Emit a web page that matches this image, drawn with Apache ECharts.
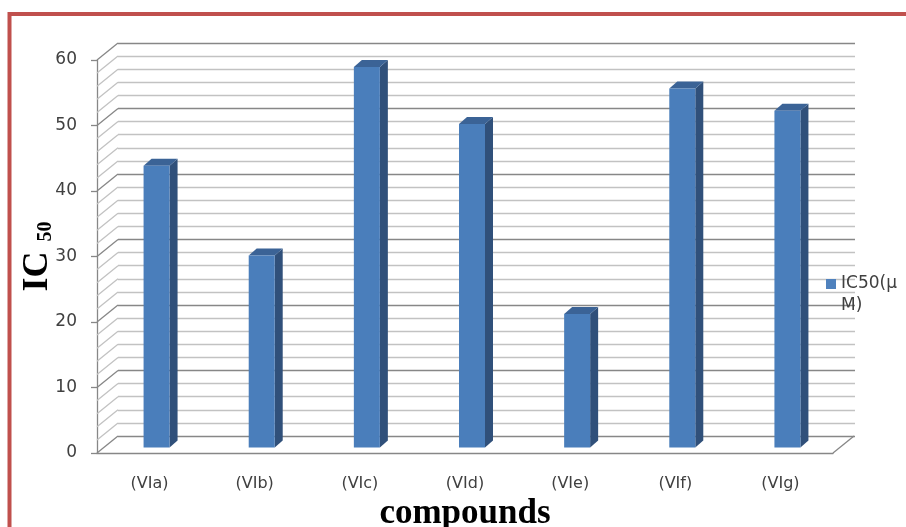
<!DOCTYPE html>
<html>
<head>
<meta charset="utf-8">
<script src="https://cdn.jsdelivr.net/npm/echarts@6/dist/echarts.min.js"></script>
<style>
  html, body { margin: 0; padding: 0; background: #fff; }
  #chart { width: 906px; height: 527px; }
</style>
</head>
<body>
<div id="chart"></div>
<script>
// IC50 values per compound
const categories = ['(VIa)', '(VIb)', '(VIc)', '(VId)', '(VIe)', '(VIf)', '(VIg)'];
const ic50 = [43, 29.3, 58.1, 49.4, 20.4, 54.8, 51.4];
const seriesName = 'IC50(μM)';
// value levels of the side-wall grid (every 2 units)
const wallLevels = [0, 2, 4, 6, 8, 10, 12, 14, 16, 18, 20, 22, 24, 26, 28, 30,
                    32, 34, 36, 38, 40, 42, 44, 46, 48, 50, 52, 54, 56, 58, 60];

const textColor = '#404040';
const labelFont = 'DejaVu Sans';
const gridMajor = '#878787';
const gridMinor = '#c2c2c2';
const depthX = 21, depthY = -17;   // perspective offset front -> back wall

const chart = echarts.init(document.getElementById('chart'));

chart.setOption({
  animation: false,
  backgroundColor: '#ffffff',
  graphic: [{
    type: 'rect',
    shape: { x: 9.5, y: 14, width: 1000, height: 1000 },
    style: { fill: 'none', stroke: '#c0504d', lineWidth: 4 },
    silent: true
  }],
  legend: {
    left: 826, top: 251, padding: 0,
    orient: 'vertical',
    itemWidth: 10, itemHeight: 10, itemGap: 5,
    data: [{ name: seriesName, icon: 'rect' }],
    // blank first line keeps the icon level with "IC50(μ"
    formatter: () => ' \nIC50(μ\nM)',
    textStyle: {
      color: textColor, fontFamily: labelFont, fontSize: 17, lineHeight: 22
    }
  },
  grid: [
    // front plane: axes and floor edge
    { left: 97, right: 73, top: 60, bottom: 74, outerBoundsMode: 'none', containLabel: false },
    // back wall: gridlines
    { left: 118, right: 51, top: 43, bottom: 91, outerBoundsMode: 'none', containLabel: false },
    // bar plane
    { left: 104, right: 66, top: 54.5, bottom: 79.5, outerBoundsMode: 'none', containLabel: false }
  ],
  xAxis: [
    {
      gridIndex: 0, type: 'category', data: categories,
      axisLine: { lineStyle: { color: gridMajor, width: 1.3 } },
      axisTick: { show: false },
      axisLabel: { color: textColor, fontFamily: labelFont, fontSize: 16, margin: 23 },
      name: 'compounds', nameLocation: 'middle', nameGap: 42,
      nameTextStyle: { fontFamily: 'Liberation Serif', fontWeight: 'bold', fontSize: 35, color: '#000' }
    },
    { gridIndex: 1, type: 'category', data: categories, show: false },
    { gridIndex: 2, type: 'category', data: categories, show: false }
  ],
  yAxis: [
    {
      gridIndex: 0, type: 'value', min: 0, max: 60, interval: 10,
      axisLine: { show: true, lineStyle: { color: gridMajor, width: 1.3 } },
      axisTick: { show: true, length: 6, lineStyle: { color: gridMajor, width: 1.3 } },
      axisLabel: { color: textColor, fontFamily: labelFont, fontSize: 17, margin: 20 },
      splitLine: { show: false },
      name: '{a|IC}{b|  50}', nameLocation: 'middle', nameRotate: 90, nameGap: 41,
      nameMoveOverlap: false,
      nameTextStyle: {
        rich: {
          a: { fontFamily: 'Liberation Serif', fontWeight: 'bold', fontSize: 36, color: '#000', verticalAlign: 'bottom' },
          b: { fontFamily: 'Liberation Serif', fontWeight: 'bold', fontSize: 20, color: '#000', verticalAlign: 'bottom' }
        }
      }
    },
    {
      gridIndex: 1, type: 'value', min: 0, max: 60, interval: 10,
      axisLine: { show: false }, axisTick: { show: false }, axisLabel: { show: false },
      splitLine: { show: true, lineStyle: { color: gridMajor, width: 1.3 } },
      minorTick: { show: false, splitNumber: 5 },
      minorSplitLine: { show: true, lineStyle: { color: gridMinor, width: 1.3 } }
    },
    {
      gridIndex: 2, type: 'value', min: 0, max: 60, show: false,
      splitLine: { show: false }
    }
  ],
  series: [
    {
      // side wall: slanted lines from the front axis to the back wall, plus floor right edge
      type: 'custom', xAxisIndex: 0, yAxisIndex: 0, silent: true,
      data: wallLevels.map(v => [0, v]),
      encode: { x: 0, y: 1 },
      z: 1,
      renderItem: function (params, api) {
        const cs = params.coordSys;
        const v = api.value(1);
        const y = api.coord([0, v])[1];
        const color = v % 10 === 0 ? gridMajor : gridMinor;
        const children = [{
          type: 'line',
          shape: { x1: cs.x, y1: y, x2: cs.x + depthX, y2: y + depthY },
          style: { stroke: color, lineWidth: 1.3 }
        }];
        if (v === 0) {
          children.push({
            type: 'line',
            shape: { x1: cs.x + cs.width, y1: y, x2: cs.x + cs.width + depthX, y2: y + depthY },
            style: { stroke: gridMajor, lineWidth: 1.3 }
          });
        }
        return { type: 'group', children: children };
      }
    },
    {
      name: seriesName,
      type: 'custom', xAxisIndex: 2, yAxisIndex: 2,
      itemStyle: { color: '#4f81bd' },
      data: categories.map((c, i) => [i, ic50[i]]),
      encode: { x: 0, y: 1 },
      z: 5,
      renderItem: function (params, api) {
        const i = api.value(0);
        const top = api.coord([i, api.value(1)]);
        const base = api.coord([i, 0]);
        const hw = 13, dx = 8, dy = -7;
        const xl = top[0] - hw, xr = top[0] + hw, yt = top[1], yb = base[1];
        return {
          type: 'group',
          children: [
            { type: 'polygon',
              shape: { points: [[xr, yt], [xr + dx, yt + dy], [xr + dx, yb + dy], [xr, yb]] },
              style: { fill: '#30507a' } },
            { type: 'polygon',
              shape: { points: [[xl, yt], [xl + dx, yt + dy], [xr + dx, yt + dy], [xr, yt]] },
              style: { fill: '#3b6396' } },
            { type: 'rect',
              shape: { x: xl, y: yt, width: xr - xl, height: yb - yt },
              style: { fill: '#4a7ebb' } }
          ]
        };
      }
    }
  ]
});
</script>
</body>
</html>
